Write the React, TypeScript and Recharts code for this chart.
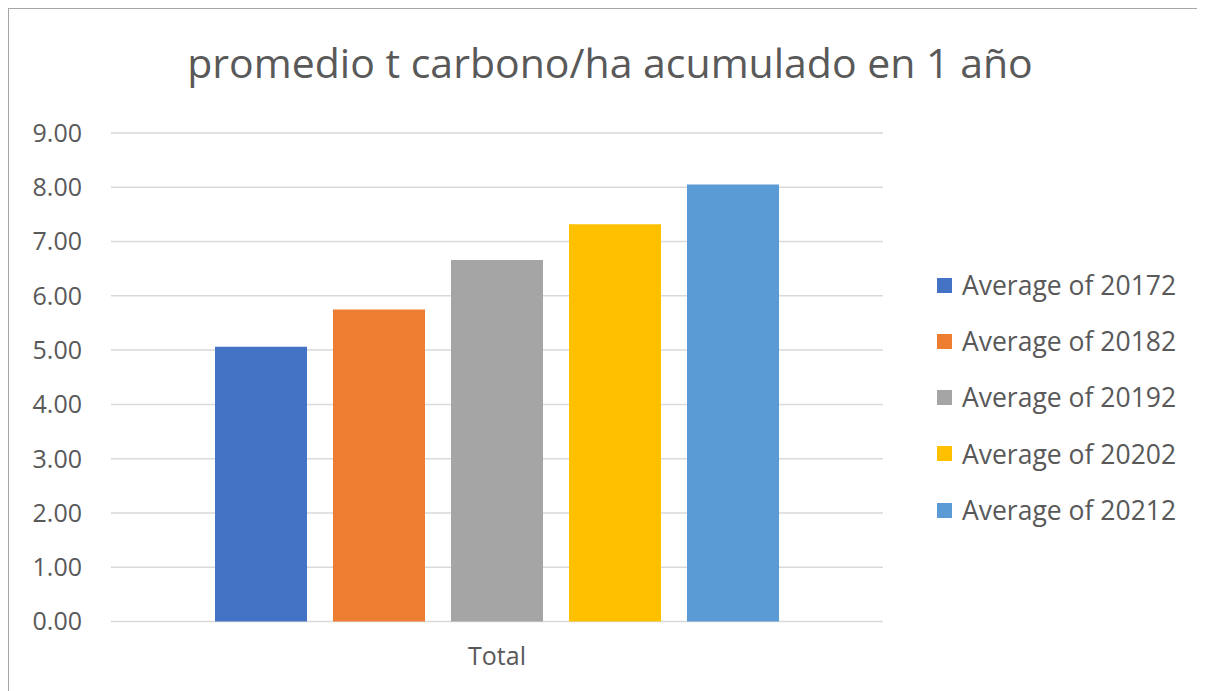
import { BarChart, Bar, XAxis, YAxis, CartesianGrid } from 'recharts';

const categories = ['Total'];
const seriesNames = [
  'Average of 20172',
  'Average of 20182',
  'Average of 20192',
  'Average of 20202',
  'Average of 20212',
];
const seriesValues = [5.06, 5.75, 6.66, 7.32, 8.05];
const seriesColors = ['#4472C4', '#ED7D31', '#A5A5A5', '#FFC000', '#5B9BD5'];
const yTicks = [0, 1, 2, 3, 4, 5, 6, 7, 8, 9];

const FONT = '"Open Sans", sans-serif';
const TEXT = '#595959';

const data = categories.map((name) => {
  const row: Record<string, string | number> = { name };
  seriesNames.forEach((s, i) => {
    row[s] = seriesValues[i];
  });
  return row;
});

export default function App() {
  return (
    <div
      style={{
        position: 'relative',
        width: 1196,
        height: 683,
        borderTop: '1px solid #A6A6A6',
        borderLeft: '1px solid #A6A6A6',
        background: '#fff',
        fontFamily: FONT,
      }}
    >
      <div
        style={{
          position: 'absolute',
          left: 0,
          top: 33,
          width: 1202,
          textAlign: 'center',
          fontSize: 41,
          lineHeight: 1,
          color: TEXT,
          whiteSpace: 'nowrap',
        }}
      >
        promedio t carbono/ha acumulado en 1 año
      </div>

      <BarChart
        width={1196}
        height={682}
        data={data}
        barSize={92}
        barGap={26}
        margin={{ top: 124, right: 322, bottom: 9.5, left: 22 }}
      >
        <CartesianGrid vertical={false} stroke="#D9D9D9" strokeWidth={1.5} />
        <XAxis
          dataKey="name"
          axisLine={false}
          tickLine={false}
          tickMargin={20}
          height={60}
          tick={{ fontSize: 25, fill: TEXT, fontFamily: FONT }}
        />
        <YAxis
          domain={[0, 9]}
          ticks={yTicks}
          width={80}
          axisLine={false}
          tickLine={false}
          tickMargin={23}
          tickFormatter={(v: number) => v.toFixed(2)}
          tick={{ fontSize: 25, fill: TEXT, fontFamily: FONT }}
        />
        {seriesNames.map((s, i) => (
          <Bar key={s} dataKey={s} fill={seriesColors[i]} isAnimationActive={false} />
        ))}
      </BarChart>

      <div style={{ position: 'absolute', left: 928, top: 248 }}>
        {seriesNames.map((s, i) => (
          <div
            key={s}
            style={{ display: 'flex', alignItems: 'center', height: 56.25, whiteSpace: 'nowrap' }}
          >
            <span
              style={{
                display: 'inline-block',
                width: 15,
                height: 15,
                background: seriesColors[i],
                marginRight: 10,
              }}
            />
            <span style={{ fontSize: 26.5, color: TEXT, lineHeight: 1 }}>{s}</span>
          </div>
        ))}
      </div>
    </div>
  );
}
